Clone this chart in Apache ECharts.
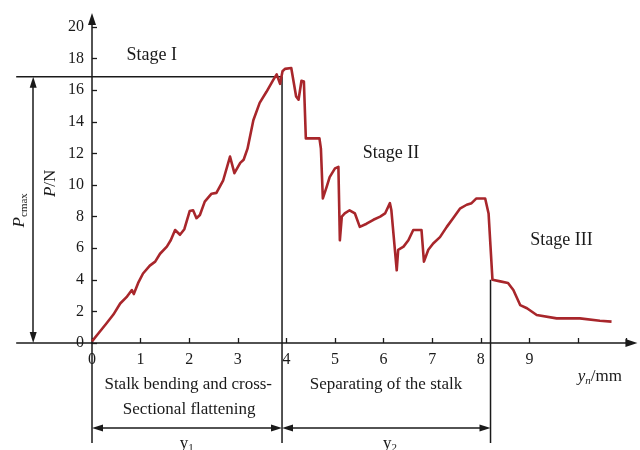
<!DOCTYPE html>
<html>
<head>
<meta charset="utf-8">
<script src="https://cdn.jsdelivr.net/npm/echarts@6/dist/echarts.min.js"></script>
<style>html,body{margin:0;padding:0;background:#fff}#c{width:640px;height:450px}</style>
</head>
<body>
<div id="c"></div>
<script>
// ---- data ----
const dispX = [0,0.13,0.3,0.44,0.58,0.71,0.82,0.86,0.95,1.05,1.19,1.3,1.4,1.54,1.62,1.71,1.81,1.9,2.01,2.08,2.15,2.22,2.32,2.46,2.56,2.7,2.84,2.93,3.05,3.12,3.2,3.32,3.45,3.59,3.73,3.8,3.87,3.92,3.97,4.1,4.14,4.2,4.25,4.31,4.36,4.4,4.68,4.71,4.75,4.83,4.89,5.0,5.07,5.1,5.14,5.2,5.3,5.41,5.51,5.65,5.79,5.93,6.03,6.13,6.16,6.27,6.3,6.41,6.51,6.61,6.78,6.83,6.92,7.02,7.16,7.3,7.43,7.57,7.71,7.81,7.91,8.09,8.16,8.2,8.24,8.4,8.56,8.67,8.81,8.95,9.15,9.56,10.04,10.45,10.69];
const forceP = [0.1,0.6,1.25,1.8,2.5,2.9,3.35,3.1,3.8,4.4,4.9,5.15,5.65,6.1,6.5,7.15,6.85,7.2,8.35,8.4,7.9,8.1,8.95,9.45,9.5,10.3,11.8,10.75,11.4,11.6,12.3,14.1,15.2,15.9,16.65,17.0,16.4,17.2,17.35,17.4,17.3,15.6,15.4,16.6,16.55,12.95,12.95,12.3,9.15,9.9,10.5,11.05,11.15,6.5,8.0,8.2,8.4,8.2,7.35,7.55,7.8,8.0,8.2,8.85,8.4,4.6,5.9,6.1,6.5,7.15,7.15,5.15,5.9,6.3,6.7,7.35,7.9,8.5,8.75,8.85,9.15,9.15,8.2,6.1,4.0,3.9,3.8,3.35,2.4,2.2,1.77,1.56,1.56,1.41,1.35];
const xTicks = [0,1,2,3,4,5,6,7,8,9,10,11];
const xTickLabels = [0,1,2,3,4,5,6,7,8,9];
const yTicks = [0,2,4,6,8,10,12,14,16,18,20];
const yTickLabels = [0,2,4,6,8,10,12,14,16,18,20];
const pMax = 16.85;      // P_cmax level
const y1End = 3.91;      // end of stage I
const y2End = 8.2;       // end of stage II
const y2Force = 4.0;     // force at the end of stage II
const stageLabels = ['Stage I','Stage II','Stage III'];
const stageLabelX = [1.23, 6.15, 9.66];
const stageLabelY = [18.2, 12.0, 6.52];

// ---- layout ----
const X0 = 92, Y0 = 343, PXX = 48.6, PXY = 15.8;
const W = 640, H = 450;
const xMax = 11.1, yMax = 20.5, xMinA = -1.8, yMinA = -6.5;
const rightPad = W - (X0 + xMax * PXX);
const topPad = Y0 - yMax * PXY;
const FONT = '"Liberation Serif","Times New Roman",serif';
const INK = '#1a1a1a';

const curve = dispX.map((x, i) => [x, forceP[i]]);
const belowY = -6.33, dimY = -5.38, pArrowX = -1.21, extX = -1.56;
const hx = 5.5 / PXX, hy = 5.5 / PXY;

function seg(pts) {
  return {type:'line', xAxisIndex:1, yAxisIndex:1, data:pts, showSymbol:false, silent:true,
    lineStyle:{color:INK, width:1.5}, animation:false, z:3};
}
const rich = {
  i:{fontFamily:FONT, fontSize:17, fontStyle:'italic', color:INK, lineHeight:20},
  r:{fontFamily:FONT, fontSize:17, color:INK, lineHeight:20},
  s:{fontFamily:FONT, fontSize:11, color:INK, verticalAlign:'bottom', lineHeight:14},
  si:{fontFamily:FONT, fontSize:11, fontStyle:'italic', color:INK, verticalAlign:'bottom', lineHeight:14}
};
function txt(x, y, text, size, rotate) {
  return {value:[x, y], label:{show:true, position:'inside', formatter:text, rotate:rotate || 0,
    fontFamily:FONT, fontSize:size || 17, color:INK, opacity:1, rich}};
}

const texts = [];
stageLabels.forEach((t, i) => texts.push(txt(stageLabelX[i], stageLabelY[i], t, 18)));
texts.push(txt(1.98, -2.66, 'Stalk bending and cross-'));
texts.push(txt(2.0, -4.24, 'Sectional flattening'));
texts.push(txt(6.05, -2.66, 'Separating of the stalk'));
texts.push(txt(1.95, -6.35, '{r|y}{s|1}'));
texts.push(txt(6.13, -6.35, '{r|y}{s|2}'));
texts.push(txt(10.45, -2.15, '{i|y}{si|n}{r|/mm}'));
texts.push(txt(-0.86, 10.1, '{i|P}{r|/N}', 17, 90));
texts.push(txt(-1.49, 8.4, '{i|P}{s|cmax}', 17, 90));

const option = {
  backgroundColor:'#fff',
  animation:false,
  grid:[
    {left:X0, right:rightPad, top:topPad, bottom:H - Y0},
    {left:X0 + xMinA * PXX, right:rightPad, top:topPad, bottom:H - Y0 + yMinA * PXY}
  ],
  xAxis:[
    {type:'value', gridIndex:0, min:0, max:xMax, interval:1,
      axisLine:{show:true, lineStyle:{color:INK, width:1.5}, symbol:['none','triangle'], symbolSize:[8,12]},
      axisTick:{show:true, inside:true, length:5, customValues:xTicks, lineStyle:{color:INK, width:1.3}},
      axisLabel:{fontFamily:FONT, fontSize:16, color:INK, margin:9, customValues:xTickLabels},
      splitLine:{show:false}},
    {type:'value', gridIndex:1, min:xMinA, max:xMax, show:false}
  ],
  yAxis:[
    {type:'value', gridIndex:0, min:0, max:yMax, interval:2,
      axisLine:{show:true, lineStyle:{color:INK, width:1.5}, symbol:['none','triangle'], symbolSize:[8,12]},
      axisTick:{show:true, inside:true, length:5, customValues:yTicks, lineStyle:{color:INK, width:1.3}},
      axisLabel:{fontFamily:FONT, fontSize:16, color:INK, margin:8, customValues:yTickLabels},
      splitLine:{show:false}},
    {type:'value', gridIndex:1, min:yMinA, max:yMax, show:false}
  ],
  series:[
    {type:'line', xAxisIndex:0, yAxisIndex:0, data:curve, showSymbol:false, silent:true,
      lineStyle:{color:'#a8262b', width:2.6, join:'round'}, z:4},
    seg([[extX, 0], [0, 0]]),
    seg([[extX, pMax], [y1End, pMax], [y1End, belowY]]),
    seg([[0, 0], [0, belowY]]),
    Object.assign(seg([[y2End, y2Force], [y2End, belowY]]), {
      markLine:{silent:true, symbol:['triangle','triangle'], symbolSize:[7,11],
        label:{show:false}, lineStyle:{color:INK, width:1.5, type:'solid'},
        data:[
          [{coord:[pArrowX, hy]}, {coord:[pArrowX, pMax - hy]}],
          [{coord:[hx, dimY]}, {coord:[y1End - hx, dimY]}],
          [{coord:[y1End + hx, dimY]}, {coord:[y2End - hx, dimY]}]
        ]}
    }),
    {type:'scatter', xAxisIndex:1, yAxisIndex:1, symbolSize:0, itemStyle:{color:'rgba(0,0,0,0)'}, silent:true, data:texts, z:5}
  ]
};
const chart = echarts.init(document.getElementById('c'), null, {renderer:'canvas'});
chart.setOption(option);
</script>
</body>
</html>
